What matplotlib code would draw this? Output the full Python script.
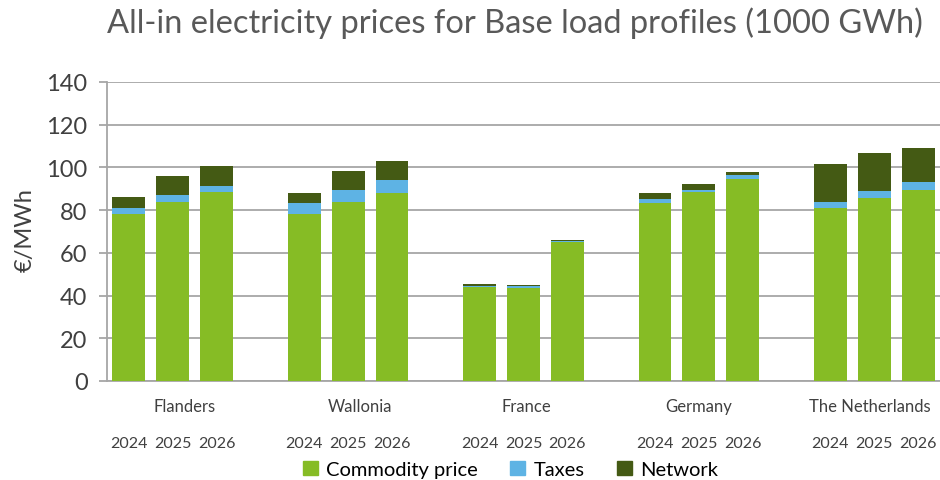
import matplotlib
matplotlib.use('Agg')
import matplotlib.pyplot as plt
from matplotlib.patches import Patch

regions = ['Flanders', 'Wallonia', 'France', 'Germany', 'The Netherlands']
years = ['2024', '2025', '2026']

# values, EUR/MWh, per region x year
commodity = [78, 84, 88.3,   78, 84, 88,   43.9, 43.5, 65,   83.3, 88.3, 94.6,   81, 85.5, 89.6]
taxes     = [3, 3.2, 3.1,    5.3, 5.2, 6,  0.6, 0.8, 0.6,    1.7, 1.1, 1.8,    2.6, 3.6, 3.8]
network   = [5, 8.7, 9.1,    4.8, 8.9, 9,  0.8, 0.8, 0.6,    2.9, 3.0, 1.3,    18, 17.6, 15.5]

c_comm = '#86bc25'
c_tax = '#5eb3e4'
c_net = '#445a14'
txt = '#404040'
grid = '#a6a6a6'

plt.rcParams['font.family'] = ['Lato', 'DejaVu Sans']

fig = plt.figure(figsize=(9.4, 4.81), dpi=100)
ax = fig.add_axes([107/940, 1 - 382/481, 833/940, 299/481])

# each region takes 3 slots plus one empty slot
x = [g * 4 + i for g in range(len(regions)) for i in range(len(years))]
bottom2 = [a + b for a, b in zip(commodity, taxes)]
w = 0.75
ax.bar(x, commodity, w, color=c_comm, zorder=3)
ax.bar(x, taxes, w, bottom=commodity, color=c_tax, zorder=3)
ax.bar(x, network, w, bottom=bottom2, color=c_net, zorder=3)

ax.set_xlim(-0.5, 18.5)
ax.set_ylim(0, 140)
ax.set_yticks(range(0, 141, 20))
ax.yaxis.grid(True, color=grid, lw=1.3, zorder=0)
ax.tick_params(axis='y', length=6, color=grid, width=1.3, labelsize=17, labelcolor=txt, pad=8)
ax.set_xticks([])
for s in ['top', 'right']:
    ax.spines[s].set_visible(False)
for s in ['left', 'bottom']:
    ax.spines[s].set_color(grid)
    ax.spines[s].set_linewidth(1.3)

# category labels under the axis
trans = ax.get_xaxis_transform()
label_shift = [0.28, 0.28, 0.07, 0, -0.1]
for g, name in enumerate(regions):
    ax.text(g * 4 + 1 + label_shift[g], -0.085, name, transform=trans,
            ha='center', va='center', fontsize=12, color=txt)
    for i, yr in enumerate(years):
        ax.text(g * 4 + i, -0.207, yr, transform=trans,
                ha='center', va='center', fontsize=11.5, color=txt)

fig.text(0.027, 0.522, '€/MWh', rotation=90, ha='center', va='center',
         fontsize=17, color=txt)
fig.text(0.548, 0.952, 'All-in electricity prices for Base load profiles (1000 GWh)',
         ha='center', va='center', fontsize=23.5, color='#595959')

handles = [Patch(color=c_comm, label='Commodity price'),
           Patch(color=c_tax, label='Taxes'),
           Patch(color=c_net, label='Network')]
fig.legend(handles=handles, loc='center', bbox_to_anchor=(0.543, 0.022), ncol=3,
           frameon=False, fontsize=14.5, handlelength=0.75, handleheight=0.75,
           handletextpad=0.4, columnspacing=1.6, labelcolor='black')

fig.savefig('out.png', dpi=100)
